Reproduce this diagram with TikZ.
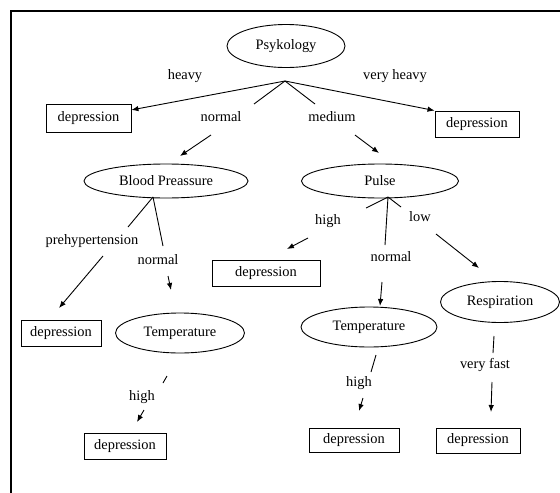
\documentclass[tikz,border=0pt]{standalone}
\usepackage{fontspec}
\setmainfont{Liberation Serif}
\usetikzlibrary{positioning,shapes.geometric,arrows.meta}

\begin{document}
\begin{tikzpicture}[x=1pt,y=-1pt,line width=0.9pt,
  font=\fontsize{14.4}{16}\selectfont,
  >={Latex[length=7pt,width=5.5pt]},
  attr/.style={draw,ellipse,inner sep=0pt},
  leaf/.style={draw,rectangle,inner sep=0pt,minimum height=26pt},
  lbl/.style={inner sep=0pt}]
\useasboundingbox (0,0) rectangle (560,493);
% frame (cut off at right and bottom)
\draw[line width=1.6pt] (11,493) -- (11,11) -- (560,11);

%% attribute nodes
\node[attr,minimum width=118pt,minimum height=43pt] (psy) at (286,46) {Psykology};
\node[attr,minimum width=164pt,minimum height=34pt] (bp) at (166,181) {Blood Preassure};
\node[attr,minimum width=157pt,minimum height=34pt] (pulse) at (380,181) {Pulse};
\node[attr,minimum width=129pt,minimum height=40pt] (temp_l) at (180,333) {Temperature};
\node[attr,minimum width=136pt,minimum height=40pt] (temp_r) at (369,327) {Temperature};
\node[attr,minimum width=119pt,minimum height=41pt] (resp) at (500,302) {Respiration};

%% leaves
\node[leaf,minimum width=85pt,minimum height=28pt] (dep_heavy) at (88.5,118) {depression};
\node[leaf,minimum width=84pt] (dep_vheavy) at (477,124) {depression};
\node[leaf,minimum width=80pt] (dep_pre) at (61,333) {depression};
\node[leaf,minimum width=82pt] (dep_tl) at (125,446) {depression};
\node[leaf,minimum width=108pt] (dep_high) at (266,273) {depression};
\node[leaf,minimum width=90pt,minimum height=24pt] (dep_tr) at (354,440) {depression};
\node[leaf,minimum width=84pt,minimum height=25pt] (dep_fast) at (478,440.5) {depression};

%% edge labels
\node[lbl] (l_heavy) at (185,76) {heavy};
\node[lbl] (l_vheavy) at (395,76) {very heavy};
\node[lbl] (l_normal) at (221,117) {normal};
\node[lbl] (l_medium) at (332,117) {medium};
\node[lbl] (l_pre) at (92,241) {prehypertension};
\node[lbl] (l_bpnormal) at (158,260) {normal};
\node[lbl] (l_tlhigh) at (142,397) {high};
\node[lbl] (l_puhigh) at (328,221) {high};
\node[lbl] (l_low) at (420,217) {low};
\node[lbl] (l_punormal) at (391,257) {normal};
\node[lbl] (l_trhigh) at (359,383) {high};
\node[lbl] (l_fast) at (485,365) {very fast};

%% Psykology
\coordinate (psy_fork) at (285,81);
\coordinate (psy_a) at (254,104); \coordinate (psy_b) at (211,135); \coordinate (bp_in) at (180,156);
\coordinate (psy_c) at (315,104); \coordinate (psy_d) at (355,135); \coordinate (pulse_in) at (379,153);
\draw[->] (psy_fork) -- (dep_heavy);
\draw[->] (psy_fork) -- (dep_vheavy.north west);
\draw (psy_fork) -- (psy_a);
\draw[->] (psy_b) -- (bp_in);
\draw (psy_fork) -- (psy_c);
\draw[->] (psy_d) -- (pulse_in);

%% Blood Preassure
\coordinate (bp_fork) at (153,197);
\coordinate (bp_a) at (128,227); \coordinate (bp_b) at (103,256); \coordinate (pre_in) at (59,308);
\coordinate (bp_c) at (163,246); \coordinate (bp_d) at (168,276); \coordinate (tl_in) at (171,290);
\draw (bp_fork) -- (bp_a);
\draw[->] (bp_b) -- (pre_in);
\draw (bp_fork) -- (bp_c);
\draw[->] (bp_d) -- (tl_in);

%% Temperature (left)
\coordinate (tl_a) at (167,376); \coordinate (tl_b) at (163,383);
\coordinate (tl_c) at (144,410); \coordinate (tl_out) at (137,422);
\draw (tl_a) -- (tl_b);
\draw[->] (tl_c) -- (tl_out);

%% Pulse
\coordinate (pu_fork) at (388,197);
\coordinate (pu_a) at (366,208); \coordinate (pu_b) at (308,238); \coordinate (high_in) at (287,249);
\coordinate (pu_c) at (401,207); \coordinate (pu_d) at (436,234); \coordinate (resp_in) at (479,268);
\coordinate (pu_e) at (385,245); \coordinate (pu_f) at (382,282); \coordinate (tr_in) at (380,306);
\draw (pu_fork) -- (pu_a);
\draw[->] (pu_b) -- (high_in);
\draw (pu_fork) -- (pu_c);
\draw[->] (pu_d) -- (resp_in);
\draw (pu_fork) -- (pu_e);
\draw[->] (pu_f) -- (tr_in);

%% Temperature (right)
\coordinate (tr_a) at (376,355); \coordinate (tr_b) at (371,372);
\coordinate (tr_c) at (363,398); \coordinate (tr_out) at (359,411);
\draw (tr_a) -- (tr_b);
\draw[->] (tr_c) -- (tr_out);

%% Respiration
\coordinate (rs_a) at (494,336); \coordinate (rs_b) at (493,353);
\coordinate (rs_c) at (492,382); \coordinate (rs_out) at (491,412);
\draw (rs_a) -- (rs_b);
\draw[->] (rs_c) -- (rs_out);
\end{tikzpicture}
\end{document}
